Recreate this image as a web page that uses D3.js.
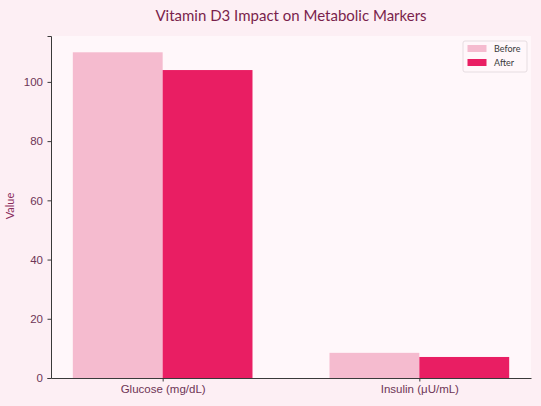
<!DOCTYPE html>
<html>
<head>
<meta charset="utf-8">
<script src="https://cdn.jsdelivr.net/npm/d3@7"></script>
<style>
  body { margin: 0; background: #fdeff4; }
  svg { display: block; font-family: "Lato", "DejaVu Sans", sans-serif; }
</style>
</head>
<body>
<div id="plot"></div>
<script>
// data
const categories = ["Glucose (mg/dL)", "Insulin (μU/mL)"];
const seriesNames = ["Before", "After"];
const beforeValues = [110, 8.5];
const afterValues = [104, 7.1];
const yTicks = [0, 20, 40, 60, 80, 100];

const colors = { Before: "#f5bbcf", After: "#e91e63" };
const textColor = "#6e3556";

const W = 541, H = 406;
const margin = { top: 36, right: 10, bottom: 28, left: 51 };

const svg = d3.select("div#plot").append("svg")
    .attr("width", W)
    .attr("height", H);

svg.append("rect")
    .attr("width", W).attr("height", H)
    .attr("fill", "#fdeff4");

const barWidth = 0.35;
const x = d3.scaleLinear()
    .domain([-barWidth - 0.085, categories.length - 1 + barWidth + 0.085])
    .range([margin.left, W - margin.right]);

const yMax = d3.max(beforeValues.concat(afterValues)) * 1.05;
const y = d3.scaleLinear()
    .domain([0, yMax])
    .range([H - margin.bottom, margin.top]);

// axes background
svg.append("rect")
    .attr("x", margin.left)
    .attr("y", margin.top)
    .attr("width", W - margin.left - margin.right)
    .attr("height", H - margin.top - margin.bottom)
    .attr("fill", "#fff7fa");

const rows = categories.map((c, i) => ({ cat: c, i, Before: beforeValues[i], After: afterValues[i] }));

seriesNames.forEach((s, k) => {
  svg.append("g").selectAll("rect")
    .data(rows)
    .enter().append("rect")
    .attr("x", d => x(d.i - barWidth + k * barWidth))
    .attr("width", d => x(d.i + barWidth) - x(d.i))
    .attr("y", d => y(d[s]))
    .attr("height", d => y(0) - y(d[s]))
    .attr("fill", colors[s]);
});

// y axis
const yAxis = d3.axisLeft(y).tickValues(yTicks).tickSize(3.5).tickPadding(4.5);
const gy = svg.append("g")
    .attr("transform", `translate(${margin.left},0)`)
    .call(yAxis);
gy.select(".domain").attr("stroke", "#3a3a3a").attr("stroke-width", 1);
gy.selectAll(".tick line").attr("stroke", "#3a3a3a");
gy.selectAll("text").attr("fill", textColor).attr("font-size", "11.5px");

// x axis
const xAxis = d3.axisBottom(x)
    .tickValues(categories.map((c, i) => i))
    .tickFormat(i => categories[i])
    .tickSize(3.5).tickPadding(3)
    .tickSizeOuter(0);
const gx = svg.append("g")
    .attr("transform", `translate(0,${H - margin.bottom})`)
    .call(xAxis);
gx.select(".domain").attr("stroke", "#3a3a3a").attr("stroke-width", 1);
gx.selectAll(".tick line").attr("stroke", "#3a3a3a");
gx.selectAll("text").attr("fill", textColor).attr("font-size", "11.5px");

// y label
svg.append("text")
    .attr("transform", `translate(14,${(margin.top + H - margin.bottom) / 2 - 1}) rotate(-90)`)
    .attr("text-anchor", "middle")
    .attr("fill", "#8a2c5c")
    .attr("font-size", "11px")
    .text("Value");

// title
svg.append("text")
    .attr("x", (margin.left + W - margin.right) / 2)
    .attr("y", 21)
    .attr("text-anchor", "middle")
    .attr("fill", "#7a1f4c")
    .attr("font-size", "15px")
    .text("Vitamin D3 Impact on Metabolic Markers");

// legend
const lg = svg.append("g").attr("transform", "translate(463,41)");
lg.append("rect")
    .attr("width", 64).attr("height", 31)
    .attr("rx", 2)
    .attr("fill", "#fff7fa")
    .attr("stroke", "#e6dde1");
seriesNames.forEach((s, k) => {
  lg.append("rect")
    .attr("x", 4.5).attr("y", 4 + k * 14)
    .attr("width", 19).attr("height", 7)
    .attr("fill", colors[s]);
  lg.append("text")
    .attr("x", 31).attr("y", 11 + k * 14)
    .attr("fill", "#3a3a3a")
    .attr("font-size", "9px")
    .text(s);
});
</script>
</body>
</html>
